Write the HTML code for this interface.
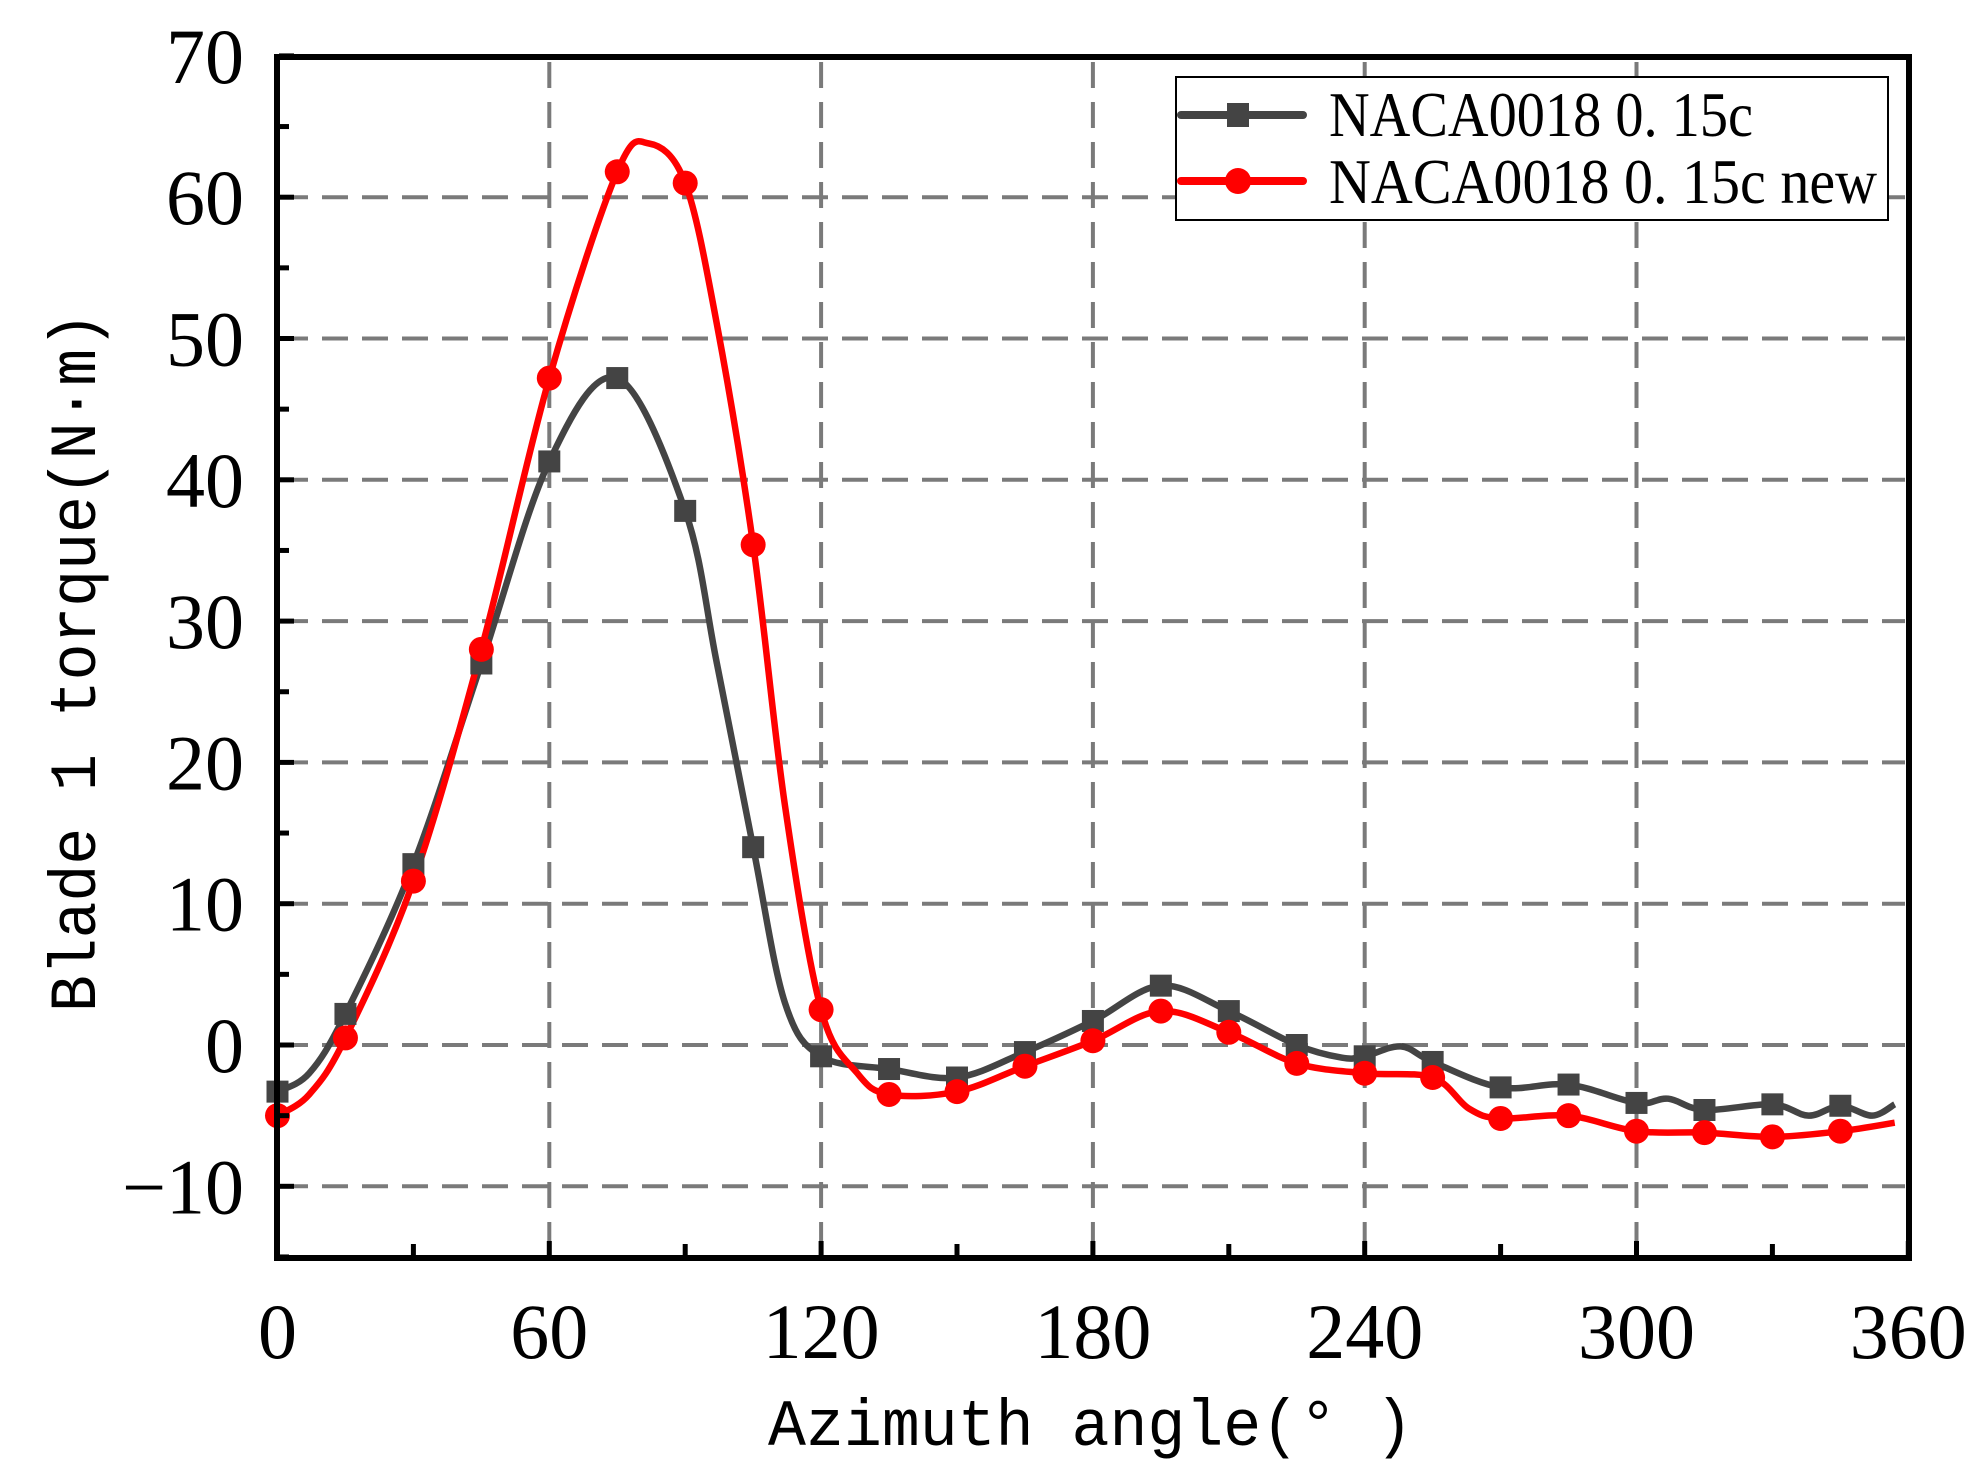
<!DOCTYPE html>
<html><head><meta charset="utf-8"><style>
html,body{margin:0;padding:0;background:#fff}
svg{display:block}
</style></head><body>
<svg id="s" width="1986" height="1467" xmlns="http://www.w3.org/2000/svg">
<rect width="1986" height="1467" fill="#fff"/>
<g id="grid" stroke="#7a7a7a" stroke-width="4" stroke-dasharray="26,14" fill="none"></g>
<g id="series"></g>
<rect x="277" y="57" width="1632" height="1201" fill="none" stroke="#000" stroke-width="6"/>
<g id="ticks" stroke="#000" stroke-width="5"></g>
<g id="labels" font-family="Liberation Serif, serif" font-size="78" fill="#000"></g>
<text x="768" y="1445" font-family="Liberation Mono, monospace" font-size="66" textLength="645" lengthAdjust="spacingAndGlyphs">Azimuth angle(° )</text>
<text transform="translate(95,1012) rotate(-90)" font-family="Liberation Mono, monospace" font-size="66" textLength="700" lengthAdjust="spacingAndGlyphs">Blade 1 torque(N·m)</text>
<rect x="1176" y="77" width="712" height="143" fill="#fff" stroke="#000" stroke-width="2"/>
<line x1="1181" y1="115" x2="1303" y2="115" stroke="#444" stroke-width="8" stroke-linecap="round"/>
<rect x="1227" y="103" width="22" height="24" fill="#444"/>
<line x1="1181" y1="181" x2="1303" y2="181" stroke="#f00" stroke-width="8" stroke-linecap="round"/>
<circle cx="1238" cy="181" r="13" fill="#f00"/>
<text x="1329" y="136" font-family="Liberation Serif, serif" font-size="64" textLength="424" lengthAdjust="spacingAndGlyphs">NACA0018 0. 15c</text>
<text x="1329" y="203" font-family="Liberation Serif, serif" font-size="64" textLength="548" lengthAdjust="spacingAndGlyphs">NACA0018 0. 15c new</text>
</svg>
<script>
const NS="http://www.w3.org/2000/svg";
const X=a=>277.5+a*4.53, Y=v=>1045-v*14.13;
function el(p,t,a,txt){const e=document.createElementNS(NS,t);for(const k in a)e.setAttribute(k,a[k]);if(txt!==undefined)e.textContent=txt;p.appendChild(e);return e;}
const g=document.getElementById('grid');
for(let v=-10;v<=60;v+=10)el(g,'line',{x1:282,x2:1905,y1:Y(v),y2:Y(v)});
for(let a=60;a<=300;a+=60)el(g,'line',{x1:X(a),x2:X(a),y1:62,y2:1254});
const t=document.getElementById('ticks');
for(let v=-15;v<=70;v+=5){const L=(v%10==0)?15:10;el(t,'line',{x1:279,x2:279+L,y1:Y(v),y2:Y(v)});}
for(let a=0;a<=360;a+=30){const L=(a%60==0)?15:12;el(t,'line',{x1:X(a),x2:X(a),y1:1256,y2:1256-L});}
const lb=document.getElementById('labels');
for(let v=-10;v<=70;v+=10){el(lb,'text',{x:244,y:Y(v)+27,'text-anchor':'end'},v<0?'\u2212'+(-v):String(v));}
for(let a=0;a<=360;a+=60){el(lb,'text',{x:X(a),y:1358,'text-anchor':'middle'},String(a));}
const black=[[0,-3.3],[7,-2],[15,2.2],[30,12.8],[45,27],[60,41.3],[75,47.2],[90,37.8],[97,27],[105,14],[112,3],[120,-0.8],[135,-1.7],[150,-2.3],[165,-0.5],[180,1.7],[195,4.2],[210,2.4],[225,0],[235,-0.9],[240,-0.8],[248,-0.1],[255,-1.2],[270,-3],[285,-2.8],[300,-4.1],[307,-3.8],[315,-4.6],[330,-4.2],[338,-5],[345,-4.3],[352,-5],[357,-4.2]];
const red=[[0,-5],[7,-3.5],[15,0.5],[30,11.6],[45,28],[60,47.2],[75,61.8],[82,63.8],[90,61],[97,51],[105,35.4],[112,17],[120,2.5],[128,-2],[135,-3.5],[150,-3.3],[165,-1.5],[180,0.3],[195,2.4],[210,0.9],[225,-1.3],[240,-2],[255,-2.3],[263,-4.5],[270,-5.2],[285,-5],[300,-6.1],[315,-6.2],[330,-6.5],[345,-6.1],[357,-5.5]];
function path(d){const p=d.map(q=>[X(q[0]),Y(q[1])]);let s='M'+p[0];for(let i=0;i<p.length-1;i++){const p0=p[Math.max(0,i-1)],p1=p[i],p2=p[i+1],p3=p[Math.min(p.length-1,i+2)];const c1=[p1[0]+(p2[0]-p0[0])/6,p1[1]+(p2[1]-p0[1])/6],c2=[p2[0]-(p3[0]-p1[0])/6,p2[1]-(p3[1]-p1[1])/6];s+='C'+c1+' '+c2+' '+p2;}return s;}
const sg=document.getElementById('series');
el(sg,'path',{d:path(black),fill:'none',stroke:'#444',"stroke-width":6.5});
el(sg,'path',{d:path(red),fill:'none',stroke:'#f00',"stroke-width":6.5});
black.forEach(q=>{if(q[0]%15==0)el(sg,'rect',{x:X(q[0])-11,y:Y(q[1])-11,width:22,height:22,fill:'#444'});});
red.forEach(q=>{if(q[0]%15==0)el(sg,'circle',{cx:X(q[0]),cy:Y(q[1]),r:12.5,fill:'#f00'});});
</script>
</body></html>
